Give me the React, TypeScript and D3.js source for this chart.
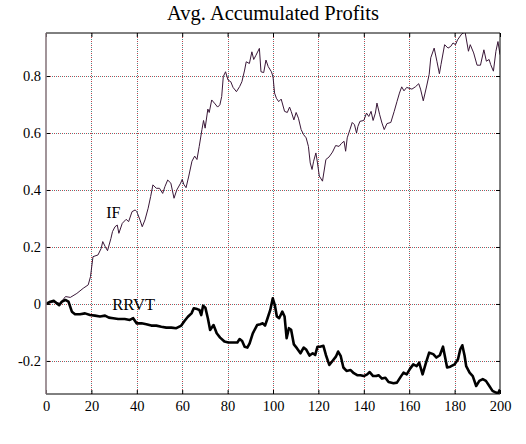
import { useEffect, useRef } from "react";
import * as d3 from "d3";

// IF curve: steps and values
const ifSteps = [
  0, 2, 4, 6, 7, 8.6, 10.7, 13.6, 16.4, 18.6, 19.6, 20.7, 22.9, 24.3, 25, 26.1, 27.1, 28.6, 29.3, 30.4,
  31.4, 32.1, 33.6, 35.3, 36.4, 37.9, 39.3, 40, 41.4, 42.4, 43.6, 45, 46.1, 47.1, 48.6, 50, 51.4, 52.4,
  53.6, 55, 56.4, 57.6, 59.3, 60, 60.7, 61.7, 62.9, 64.3, 65.5, 66.5, 67.5, 68.7, 69.4, 70.1, 71.3, 71.9,
  73, 74.5, 75.6, 76.6, 77.4, 78.1, 79.1, 80.2, 81.4, 82.4, 83.9, 85.3, 86.3, 87.5, 88.2, 89.6, 90.7,
  91.5, 92.5, 94, 94.7, 95.9, 96.9, 97.9, 99.3, 100, 100.7, 101.5, 102.5, 103.6, 105.1, 106.3, 107.3,
  108, 109.2, 110.2, 111.2, 112.4, 113.5, 114.6, 115.6, 116.4, 117.2, 117.9, 118.9, 119.6, 120.4, 121.8,
  123.3, 124.7, 126.2, 127.6, 129.1, 130.1, 131.3, 132, 132.7, 133.9, 134.9, 135.9, 136.8, 137.4, 138.3,
  140, 141.2, 142.2, 143.2, 144.1, 145.1, 145.8, 147, 148, 149, 150.2, 151.9, 153.4, 154.6, 155.7, 156.7,
  157.7, 158.9, 161.2, 162.7, 164.2, 165, 166.2, 167.7, 168.8, 169.5, 171, 172.2, 173.3, 174, 175.6,
  177.1, 178.3, 179.3, 180.4, 181.3, 183.1, 184.6, 186.1, 186.9, 188.4, 189.9, 191.4, 192.9, 194, 195.2,
  195.9, 197.1, 198.2, 199.1, 200,
];
const ifValues = [
  0, 0.004, 0.008, 0.002, 0.01, 0.026, 0.023, 0.037, 0.055, 0.067, 0.096, 0.166, 0.172, 0.195, 0.219,
  0.201, 0.187, 0.23, 0.254, 0.271, 0.277, 0.248, 0.283, 0.297, 0.289, 0.324, 0.33, 0.324, 0.295, 0.271,
  0.295, 0.336, 0.377, 0.418, 0.406, 0.406, 0.388, 0.412, 0.435, 0.424, 0.371, 0.4, 0.424, 0.437, 0.42,
  0.408, 0.449, 0.501, 0.519, 0.507, 0.553, 0.612, 0.644, 0.617, 0.684, 0.672, 0.716, 0.702, 0.691,
  0.699, 0.728, 0.798, 0.815, 0.786, 0.78, 0.76, 0.745, 0.763, 0.78, 0.821, 0.85, 0.844, 0.885, 0.858,
  0.873, 0.897, 0.815, 0.812, 0.856, 0.833, 0.815, 0.798, 0.74, 0.722, 0.71, 0.719, 0.676, 0.672, 0.691,
  0.676, 0.646, 0.672, 0.652, 0.612, 0.594, 0.583, 0.553, 0.495, 0.472, 0.501, 0.53, 0.495, 0.449, 0.431,
  0.507, 0.516, 0.533, 0.556, 0.553, 0.563, 0.571, 0.536, 0.583, 0.612, 0.637, 0.629, 0.6, 0.623, 0.641,
  0.644, 0.67, 0.658, 0.676, 0.644, 0.67, 0.705, 0.664, 0.635, 0.612, 0.633, 0.637, 0.676, 0.71, 0.74,
  0.762, 0.748, 0.76, 0.754, 0.762, 0.773, 0.754, 0.713, 0.765, 0.806, 0.864, 0.898, 0.852, 0.808, 0.84,
  0.91, 0.898, 0.904, 0.916, 0.91, 0.927, 0.947, 0.955, 0.887, 0.91, 0.881, 0.838, 0.838, 0.892, 0.852,
  0.858, 0.84, 0.817, 0.887, 0.921, 0.875,
];

// RRVT curve
const rrvtSteps = [
  0, 1.9, 3.4, 4.8, 5.8, 7, 8.5, 9.9, 11.4, 12.8, 15, 17.2, 19.4, 21.6, 23.8, 26, 27.7, 29.6, 31.8, 34.7,
  36.9, 38.4, 39.9, 42.1, 44.2, 46.4, 48.6, 50.8, 53, 55.2, 57.4, 59.6, 61, 62.5, 64.1, 65.1, 66.6, 67.6,
  68.4, 69.2, 70.2, 71.3, 72.3, 73.8, 75.2, 76.7, 78.6, 80.3, 82.5, 84.3, 85.3, 86.4, 87.5, 88.7, 89.7,
  91.1, 93, 94.4, 95.5, 96.5, 97.6, 98.8, 99.9, 100.8, 101.7, 102.7, 104.1, 105.1, 106, 107, 108, 109.2,
  110.6, 112.1, 113.5, 114.7, 116.1, 117.5, 118.6, 119.6, 120.7, 122.2, 123.3, 124.8, 126.2, 127.7,
  128.7, 129.8, 131, 132.4, 134.2, 135.6, 137.1, 138.5, 140, 141.5, 142.6, 144.1, 145.5, 146.5, 148,
  149.5, 150.9, 153.1, 154.6, 156.3, 157.5, 158.9, 160.4, 161.8, 163.3, 164.4, 165.9, 167.4, 168.8,
  170.6, 172, 173.5, 174.9, 176.7, 178.1, 180, 181.5, 182.5, 183.4, 184.4, 185.1, 186.6, 188, 189.5,
  190.9, 192.4, 193.8, 195.3, 196.7, 198.2, 199.2, 200,
];
const rrvtValues = [
  0, 0.008, 0.011, 0.002, -0.004, 0.008, 0.014, 0.008, -0.027, -0.036, -0.036, -0.033, -0.039, -0.041,
  -0.044, -0.041, -0.048, -0.05, -0.053, -0.053, -0.056, -0.05, -0.068, -0.068, -0.071, -0.076, -0.076,
  -0.08, -0.083, -0.083, -0.085, -0.076, -0.06, -0.045, -0.033, -0.015, -0.018, -0.021, -0.039, -0.006,
  -0.013, -0.05, -0.091, -0.074, -0.103, -0.118, -0.132, -0.135, -0.135, -0.135, -0.123, -0.13, -0.15,
  -0.153, -0.138, -0.103, -0.074, -0.071, -0.068, -0.076, -0.05, -0.021, 0.02, -0.004, -0.044, -0.05,
  -0.027, -0.044, -0.12, -0.085, -0.091, -0.142, -0.156, -0.173, -0.153, -0.161, -0.181, -0.173, -0.179,
  -0.15, -0.15, -0.147, -0.179, -0.214, -0.2, -0.185, -0.167, -0.182, -0.223, -0.235, -0.232, -0.243,
  -0.25, -0.25, -0.253, -0.247, -0.239, -0.253, -0.253, -0.25, -0.262, -0.259, -0.274, -0.278, -0.276,
  -0.255, -0.241, -0.247, -0.227, -0.212, -0.218, -0.206, -0.247, -0.206, -0.171, -0.176, -0.188, -0.18,
  -0.15, -0.223, -0.22, -0.212, -0.194, -0.159, -0.145, -0.182, -0.218, -0.241, -0.253, -0.288, -0.27,
  -0.264, -0.27, -0.288, -0.305, -0.311, -0.313, -0.3,
];

const xTicks = [0, 20, 40, 60, 80, 100, 120, 140, 160, 180, 200];
const yTicks = [-0.2, 0, 0.2, 0.4, 0.6, 0.8];

const WIDTH = 526;
const HEIGHT = 444;
const FONT = "'Liberation Serif', 'Times New Roman', serif";

const App = () => {
  const svgRef = useRef<SVGSVGElement | null>(null);

  useEffect(() => {
    const margin = { top: 33, right: 26, bottom: 50, left: 46 };
    const svg = d3.select(svgRef.current);
    svg.selectAll("*").remove();

    const x = d3
      .scaleLinear()
      .domain([0, 200])
      .range([margin.left, WIDTH - margin.right]);
    const y = d3
      .scaleLinear()
      .domain([-0.316, 0.951])
      .range([HEIGHT - margin.bottom, margin.top]);

    const [x0, x1] = x.range();
    const [y0, y1] = y.range();

    svg
      .append("rect")
      .attr("width", WIDTH)
      .attr("height", HEIGHT)
      .attr("fill", "white");

    // dotted grid, two-tone dots like the old matlab render
    const grid = svg.append("g");
    const tones = [
      { color: "#c0404a", offset: 0 },
      { color: "#4a8a8a", offset: 2 },
    ];
    tones.forEach((t) => {
      grid
        .append("g")
        .selectAll("line")
        .data(xTicks.slice(1, -1))
        .join("line")
        .attr("x1", (d) => Math.round(x(d)) + 0.5)
        .attr("x2", (d) => Math.round(x(d)) + 0.5)
        .attr("y1", y1)
        .attr("y2", y0)
        .attr("stroke", t.color)
        .attr("stroke-dasharray", "1,3")
        .attr("stroke-dashoffset", t.offset);
      grid
        .append("g")
        .selectAll("line")
        .data(yTicks)
        .join("line")
        .attr("y1", (d) => Math.round(y(d)) + 0.5)
        .attr("y2", (d) => Math.round(y(d)) + 0.5)
        .attr("x1", x0)
        .attr("x2", x1)
        .attr("stroke", t.color)
        .attr("stroke-dasharray", "1,3")
        .attr("stroke-dashoffset", t.offset);
    });

    svg
      .append("clipPath")
      .attr("id", "plot-clip")
      .append("rect")
      .attr("x", x0)
      .attr("y", y1)
      .attr("width", x1 - x0)
      .attr("height", y0 - y1);

    const line = d3
      .line<[number, number]>()
      .x((d) => x(d[0]))
      .y((d) => y(d[1]));

    const plot = svg.append("g").attr("clip-path", "url(#plot-clip)");

    plot
      .append("path")
      .datum(ifSteps.map((s, i) => [s, ifValues[i]] as [number, number]))
      .attr("d", line)
      .attr("fill", "none")
      .attr("stroke", "#3a1838")
      .attr("stroke-width", 1);

    plot
      .append("path")
      .datum(rrvtSteps.map((s, i) => [s, rrvtValues[i]] as [number, number]))
      .attr("d", line)
      .attr("fill", "none")
      .attr("stroke", "#000")
      .attr("stroke-width", 2.6)
      .attr("stroke-linejoin", "round");

    // axes with inward ticks (box on)
    const styleAxis = (g: d3.Selection<SVGGElement, unknown, null, undefined>) => {
      g.selectAll(".domain").attr("display", "none");
      g.selectAll(".tick line").attr("stroke", "#000");
      g.selectAll("text")
        .attr("fill", "#000")
        .style("font-family", FONT)
        .style("font-size", "14.5px");
    };

    svg
      .append("g")
      .attr("transform", `translate(0,${y0})`)
      .call(d3.axisBottom(x).tickValues(xTicks).tickSizeInner(-4).tickSizeOuter(0).tickPadding(7))
      .call(styleAxis);
    svg
      .append("g")
      .attr("transform", `translate(0,${y1})`)
      .call(d3.axisTop(x).tickValues(xTicks).tickSizeInner(-4).tickSizeOuter(0).tickFormat(() => ""))
      .call(styleAxis);
    svg
      .append("g")
      .attr("transform", `translate(${x0},0)`)
      .call(
        d3
          .axisLeft(y)
          .tickValues(yTicks)
          .tickSizeInner(-4)
          .tickSizeOuter(0)
          .tickPadding(5)
          .tickFormat((d) => {
            const v = Math.round(+d * 10) / 10;
            return v === 0 ? "0" : String(v);
          }),
      )
      .call(styleAxis);
    svg
      .append("g")
      .attr("transform", `translate(${x1},0)`)
      .call(d3.axisRight(y).tickValues(yTicks).tickSizeInner(-4).tickSizeOuter(0).tickFormat(() => ""))
      .call(styleAxis);

    // frame
    svg
      .append("path")
      .attr("d", `M${x0},${y1}H${x1}V${y0}H${x0}`)
      .attr("fill", "none")
      .attr("stroke", "#000")
      .attr("stroke-width", 1);
    svg
      .append("line")
      .attr("x1", x0)
      .attr("x2", x0)
      .attr("y1", y1)
      .attr("y2", y0)
      .attr("stroke", "#8a7a80")
      .attr("stroke-width", 1.6);

    svg
      .append("text")
      .attr("x", (x0 + x1) / 2)
      .attr("y", 20)
      .attr("text-anchor", "middle")
      .style("font-family", FONT)
      .style("font-size", "20.5px")
      .text("Avg. Accumulated Profits");

    svg
      .append("text")
      .attr("x", x(26.5))
      .attr("y", y(0.3))
      .style("font-family", FONT)
      .style("font-size", "16px")
      .text("IF");

    svg
      .append("text")
      .attr("x", x(29.2))
      .attr("y", y(-0.022))
      .style("font-family", FONT)
      .style("font-size", "16.5px")
      .text("RRVT");
  }, []);

  return (
    <svg
      ref={svgRef}
      width={WIDTH}
      height={HEIGHT}
      style={{ position: "absolute", left: 0, top: 0, background: "white" }}
    />
  );
};

export default App;
